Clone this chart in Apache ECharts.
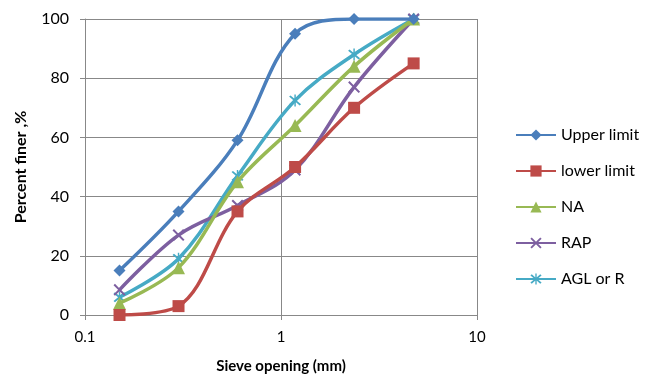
<!DOCTYPE html>
<html><head><meta charset="utf-8">
<script src="https://cdn.jsdelivr.net/npm/echarts@6/dist/echarts.min.js"></script>
<style>html,body{margin:0;padding:0;background:#fff}#c{width:654px;height:375px}</style>
</head><body><div id="c"></div>
<script>
const sieves = [0.15, 0.3, 0.6, 1.18, 2.36, 4.75];
const seriesNames = ['Upper limit', 'lower limit', 'NA', 'RAP', 'AGL or R'];
const upperLimit = [15, 35, 59, 95, 100, 100];
const lowerLimit = [0, 3, 35, 50, 70, 85];
const naValues = [4, 16, 45, 64, 84, 100];
const rapValues = [8.5, 27, 37, 49, 77, 100];
const aglValues = [6, 19, 47, 72.5, 88, 100];
const yTicks = [0, 20, 40, 60, 80, 100];

const colors = ['#4A7EBB', '#BE4B48', '#98B954', '#7D5FA0', '#46AAC5'];
const xPath = 'path://M0,1.2 L1.2,0 L5,3.8 L8.8,0 L10,1.2 L6.2,5 L10,8.8 L8.8,10 L5,6.2 L1.2,10 L0,8.8 L3.8,5 Z';
const astPath = 'path://M0,1.2 L1.2,0 L5,3.8 L8.8,0 L10,1.2 L6.2,5 L10,8.8 L8.8,10 L5,6.2 L1.2,10 L0,8.8 L3.8,5 Z M4.4,-1 L5.6,-1 L5.6,11 L4.4,11 Z';
const symbols = ['diamond', 'rect', 'triangle', xPath, astPath];
const symSizes = [12, 12, 13, 12, 12];
const allData = [upperLimit, lowerLimit, naValues, rapValues, aglValues];

const chart = echarts.init(document.getElementById('c'));
const font = 'Lato, "Open Sans", sans-serif';
chart.setOption({
  animation: false,
  textStyle: {fontFamily: font},
  grid: {left: 85, right: 177, top: 19, bottom: 60, containLabel: false, outerBoundsMode: 'none'},
  xAxis: {
    type: 'log', logBase: 10, min: 0.1, max: 10,
    name: 'Sieve opening (mm)', nameLocation: 'middle', nameGap: 44,
    nameTextStyle: {fontSize: 15, fontWeight: 'bold', color: '#000', fontFamily: font},
    axisLine: {show: true, lineStyle: {color: '#888', width: 1}},
    axisTick: {show: true, length: 5, lineStyle: {color: '#888'}},
    minorTick: {show: false},
    axisLabel: {fontSize: 15, color: '#000', margin: 15, fontFamily: font},
    splitLine: {show: true, lineStyle: {color: '#888', width: 1}}
  },
  yAxis: {
    type: 'value', min: 0, max: 100, interval: 20,
    name: 'Percent finer ,%', nameLocation: 'middle', nameGap: 56, nameRotate: 90,
    nameTextStyle: {fontSize: 16, fontWeight: 'bold', color: '#000', fontFamily: font},
    axisLine: {show: true, lineStyle: {color: '#888', width: 1}},
    axisTick: {show: true, length: 5, lineStyle: {color: '#888'}},
    axisLabel: {fontSize: 16, color: '#000', margin: 16, fontFamily: font,
      formatter: v => yTicks.includes(v) ? String(v) : ''},
    splitLine: {show: true, lineStyle: {color: '#888', width: 1}}
  },
  legend: {
    orient: 'vertical', left: 510, top: 122,
    itemWidth: 40, itemHeight: 14, itemGap: 20,
    textStyle: {fontSize: 16, color: '#000', fontFamily: font},
    data: seriesNames
  },
  series: seriesNames.map((n, i) => ({
    name: n, type: 'line', smooth: 0.35,
    data: sieves.map((s, j) => [s, allData[i][j]]),
    symbol: symbols[i], symbolSize: symSizes[i], showSymbol: true,
    lineStyle: {color: colors[i], width: 3.5},
    itemStyle: {color: colors[i], borderWidth: 0},
    z: 2 + (seriesNames.length - i)
  }))
});
</script></body></html>
